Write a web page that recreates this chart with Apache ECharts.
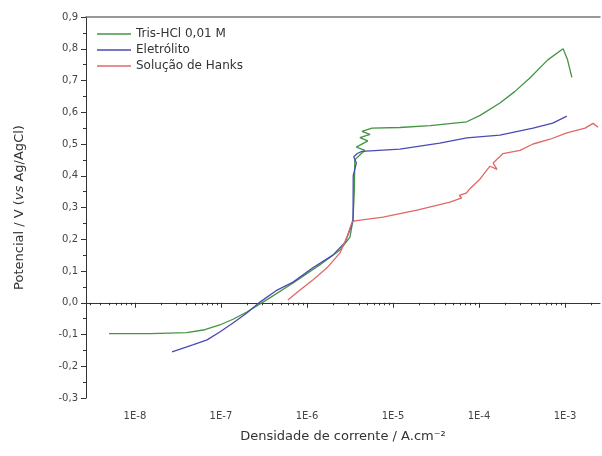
<!DOCTYPE html>
<html>
<head>
<meta charset="utf-8">
<script src="https://cdn.jsdelivr.net/npm/echarts@6/dist/echarts.min.js"></script>
<style>
html, body { margin: 0; padding: 0; background: #fff; }
#chart { width: 602px; height: 456px; }
</style>
</head>
<body>
<div id="chart"></div>
<script>
var seriesNames = ['Tris-HCl 0,01 M', 'Eletrólito', 'Solução de Hanks'];

// Tris-HCl 0,01 M
var trisX = [5.0e-9, 1.5e-8, 4.0e-8, 6.5e-8, 9.7e-8, 1.38e-7, 2.0e-7, 3.4e-7, 6.9e-7, 1.42e-6, 2.42e-6, 3.16e-6, 3.43e-6, 3.55e-6, 3.6e-6, 3.92e-6, 4.72e-6, 3.75e-6, 5.1e-6, 4.13e-6, 5.4e-6, 4.36e-6, 5.7e-6, 1.2e-5, 2.7e-5, 7.2e-5, 1.03e-4, 1.75e-4, 2.6e-4, 3.9e-4, 6.3e-4, 9.5e-4, 1.07e-3, 1.2e-3];
var trisY = [-0.097, -0.097, -0.094, -0.085, -0.07, -0.052, -0.029, 0.009, 0.062, 0.12, 0.166, 0.207, 0.26, 0.35, 0.45, 0.46, 0.48, 0.49, 0.51, 0.52, 0.53, 0.54, 0.55, 0.552, 0.558, 0.57, 0.59, 0.629, 0.665, 0.708, 0.765, 0.80, 0.765, 0.71];

// Eletrólito
var eletX = [2.7e-8, 4.7e-8, 6.9e-8, 9.7e-8, 1.38e-7, 2.0e-7, 2.84e-7, 4.5e-7, 6.9e-7, 1.17e-6, 2.0e-6, 2.77e-6, 3.16e-6, 3.43e-6, 3.45e-6, 3.75e-6, 3.5e-6, 3.85e-6, 4.36e-6, 1.2e-5, 3.5e-5, 7.2e-5, 1.75e-4, 4.25e-4, 7.2e-4, 1.05e-3];
var eletY = [-0.155, -0.133, -0.117, -0.092, -0.064, -0.032, 0.002, 0.04, 0.065, 0.11, 0.15, 0.19, 0.23, 0.26, 0.40, 0.44, 0.46, 0.47, 0.477, 0.484, 0.503, 0.519, 0.528, 0.55, 0.566, 0.588];

// Solução de Hanks
var hanksX = [6.0e-7, 8.3e-7, 1.17e-6, 1.71e-6, 2.42e-6, 2.92e-6, 3.34e-6, 3.6e-6, 7.65e-6, 1.9e-5, 4.6e-5, 6.3e-5, 5.9e-5, 7.1e-5, 7.9e-5, 1.03e-4, 1.34e-4, 1.62e-4, 1.46e-4, 1.9e-4, 3.0e-4, 4.25e-4, 6.7e-4, 1.05e-3, 1.71e-3, 2.12e-3, 2.42e-3];
var hanksY = [0.009, 0.04, 0.072, 0.11, 0.157, 0.207, 0.254, 0.258, 0.27, 0.292, 0.317, 0.33, 0.338, 0.345, 0.36, 0.39, 0.43, 0.42, 0.44, 0.47, 0.48, 0.50, 0.515, 0.535, 0.55, 0.565, 0.553];

var majorTicks = [1e-8, 1e-7, 1e-6, 1e-5, 1e-4, 1e-3];
var minorTicks = [];
for (var e = -9; e <= -3; e++) {
    for (var m = 2; m <= 9; m++) {
        var v = m * Math.pow(10, e);
        if (v > 2.7e-9 && v < 2.55e-3) minorTicks.push(v);
    }
}

function pairs(xs, ys) {
    var out = [];
    for (var i = 0; i < xs.length; i++) out.push([xs[i], ys[i]]);
    return out;
}

var font = 'DejaVu Sans';
var colors = ['#449444', '#4a4ab8', '#e06868'];

var chart = echarts.init(document.getElementById('chart'));

var option = {
    animation: false,
    color: colors,
    textStyle: { fontFamily: font },
    grid: [
        { left: 86, right: 2, top: 17, bottom: 58 },
        { left: 86, right: 2, top: 17, bottom: 58 }
    ],
    legend: {
        orient: 'vertical',
        left: 92,
        top: 22,
        icon: 'rect',
        itemWidth: 34,
        itemHeight: 1.5,
        itemGap: 2,
        data: seriesNames,
        textStyle: { fontFamily: font, fontSize: 12, color: '#333', lineHeight: 14 }
    },
    xAxis: [
        {
            type: 'log',
            gridIndex: 0,
            position: 'bottom',
            min: 2.7e-9,
            max: 2.55e-3,
            axisLine: { lineStyle: { color: '#333', width: 1 } },
            axisTick: { customValues: majorTicks, length: 5, lineStyle: { color: '#333' } },
            axisLabel: {
                customValues: majorTicks,
                margin: 13,
                fontSize: 10,
                color: '#444',
                formatter: function (v) {
                    return '1E' + Math.round(Math.log10(v));
                }
            },
            splitLine: { show: false },
            name: 'Densidade de corrente / A.cm⁻²',
            nameLocation: 'middle',
            nameGap: 32,
            nameTextStyle: { fontSize: 13, color: '#333', fontFamily: font }
        },
        {
            type: 'log',
            gridIndex: 0,
            position: 'top',
            min: 2.7e-9,
            max: 2.55e-3,
            axisLine: { lineStyle: { color: '#777', width: 1.5 } },
            axisTick: { show: false },
            axisLabel: { show: false },
            splitLine: { show: false }
        },
        {
            type: 'log',
            gridIndex: 1,
            position: 'bottom',
            min: 2.7e-9,
            max: 2.55e-3,
            axisLine: { show: false },
            axisTick: { customValues: minorTicks, length: 2.5, lineStyle: { color: '#333' } },
            axisLabel: { show: false },
            splitLine: { show: false }
        }
    ],
    yAxis: [
        {
            type: 'value',
            gridIndex: 0,
            min: -0.3,
            max: 0.9,
            interval: 0.1,
            axisLine: { show: true, lineStyle: { color: '#333', width: 1 } },
            axisTick: { show: true, length: 5, lineStyle: { color: '#333' } },
            minorTick: { show: true, splitNumber: 2, length: 3, lineStyle: { color: '#333' } },
            axisLabel: {
                margin: 8,
                fontSize: 10,
                color: '#444',
                formatter: function (v) {
                    return v.toFixed(1).replace('.', ',');
                }
            },
            splitLine: { show: false },
            name: '{n|Potencial / V (}{i|vs}{n| Ag/AgCl)}',
            nameLocation: 'middle',
            nameGap: 60,
            nameTextStyle: {
                rich: {
                    n: { fontSize: 13, color: '#333', fontFamily: font },
                    i: { fontSize: 13, color: '#333', fontFamily: font, fontStyle: 'italic' }
                }
            }
        },
        {
            type: 'value',
            gridIndex: 1,
            min: -0.3,
            max: 0.9,
            show: false
        }
    ],
    series: [
        {
            name: seriesNames[0],
            type: 'line',
            xAxisIndex: 0,
            yAxisIndex: 0,
            symbol: 'none',
            lineStyle: { width: 1.3 },
            data: pairs(trisX, trisY)
        },
        {
            name: seriesNames[1],
            type: 'line',
            xAxisIndex: 0,
            yAxisIndex: 0,
            symbol: 'none',
            lineStyle: { width: 1.3 },
            data: pairs(eletX, eletY)
        },
        {
            name: seriesNames[2],
            type: 'line',
            xAxisIndex: 0,
            yAxisIndex: 0,
            symbol: 'none',
            lineStyle: { width: 1.3 },
            data: pairs(hanksX, hanksY)
        }
    ]
};

chart.setOption(option);
</script>
</body>
</html>
